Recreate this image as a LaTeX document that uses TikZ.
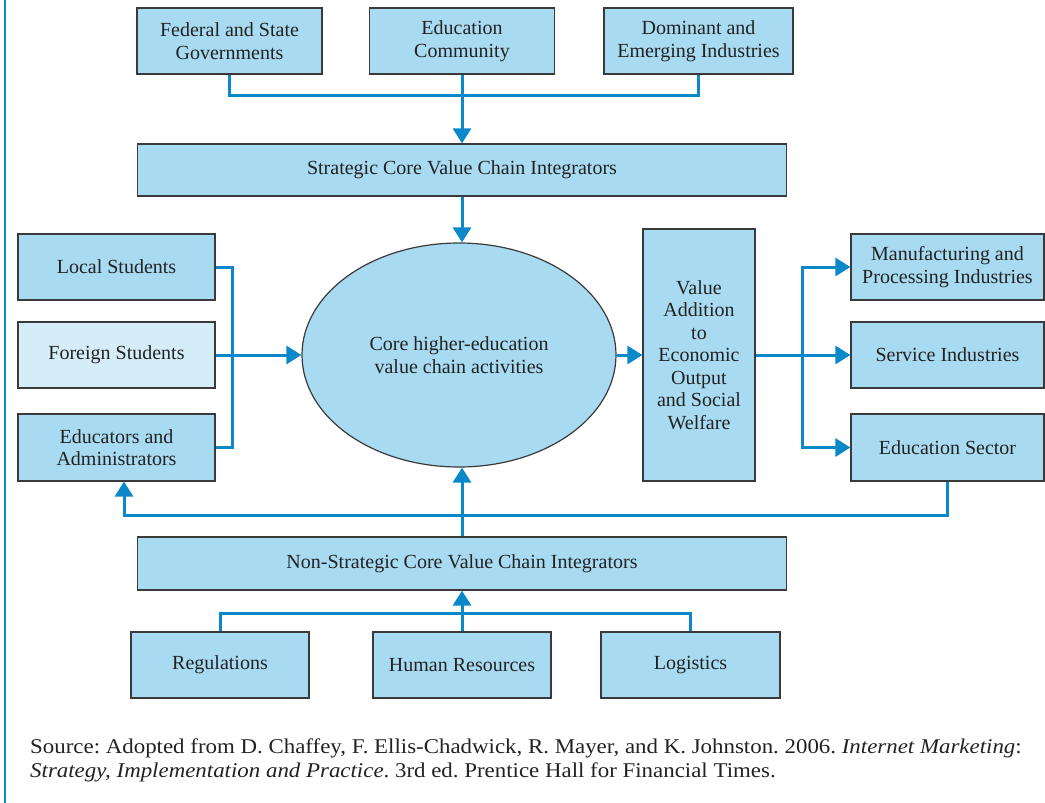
\documentclass[tikz,border=0pt]{standalone}
\usepackage{fontspec}
\setmainfont{Liberation Serif}
\newfontfamily\sourcefont[FakeStretch=1.09]{Liberation Serif}
\usetikzlibrary{arrows.meta,positioning,calc,shapes.geometric}
\definecolor{boxfill}{HTML}{A8DBF2}
\definecolor{boxpale}{HTML}{D5EDF9}
\definecolor{boxline}{HTML}{3A3A3A}
\definecolor{linkblue}{HTML}{0A88C9}
\definecolor{inktext}{HTML}{222222}

\tikzset{
  chainbox/.style={draw=boxline,line width=1.2pt,fill=boxfill,align=center,
    inner sep=0pt,text=inktext,font=\fontsize{20}{22.5}\selectfont},
  link/.style={linkblue,line width=3pt},
  linkarrow/.style={link,-{Triangle[length=15pt,width=18pt]}}
}

\begin{document}
\frenchspacing
\begin{tikzpicture}[x=1pt,y=-1pt]
  \useasboundingbox (0,0) rectangle (1045,803);
  \draw[linkblue,line width=1.5pt] (5,0) -- (5,803);

  % top row
  \node[chainbox,minimum width=185pt,minimum height=66pt] (fed) at (229.5,41) {Federal and State\\Governments};
  \node[chainbox,minimum width=185pt,minimum height=66pt] (edu) at (462,41) {Education\\Community};
  \node[chainbox,minimum width=189pt,minimum height=66pt] (dom) at (698.5,41) {Dominant and\\Emerging Industries};
  \node[chainbox,minimum width=649pt,minimum height=52pt] (strat) at (462,170) {Strategic Core Value Chain Integrators};

  % middle
  \node[chainbox,ellipse,minimum width=314pt,minimum height=224pt] (core) at (459,355) {Core higher-education\\value chain activities};
  \node[chainbox,minimum width=197pt,minimum height=66pt] (local) at (116.5,267) {Local Students};
  \node[chainbox,fill=boxpale,minimum width=197pt,minimum height=66pt] (foreign) at (116.5,355) {Foreign Students};
  \node[chainbox,minimum width=197pt,minimum height=67pt] (educ) at (116.5,447.5) {Educators and\\Administrators};
  \node[chainbox,minimum width=112pt,minimum height=252pt] (value) at (699,355) {Value\\Addition\\to\\Economic\\Output\\and Social\\Welfare};
  \node[chainbox,minimum width=193pt,minimum height=66pt] (manu) at (947.5,267) {Manufacturing and\\Processing Industries};
  \node[chainbox,minimum width=193pt,minimum height=66pt] (serv) at (947.5,355) {Service Industries};
  \node[chainbox,minimum width=193pt,minimum height=67pt] (edsec) at (947.5,447.5) {Education Sector};

  % bottom
  \node[chainbox,minimum width=649pt,minimum height=53pt] (nonstrat) at (462,563.5) {Non-Strategic Core Value Chain Integrators};
  \node[chainbox,minimum width=178pt,minimum height=66pt] (reg) at (220,665) {Regulations};
  \node[chainbox,minimum width=178pt,minimum height=66pt] (hr) at (462,665) {Human Resources};
  \node[chainbox,minimum width=179pt,minimum height=66pt] (log) at (690.5,665) {Logistics};

  \node[anchor=north west,align=left,inner sep=0pt,text=inktext,font=\sourcefont\fontsize{21}{24}\selectfont] (src) at (30,739)
    {Source: Adopted from D. Chaffey, F. Ellis-Chadwick, R. Mayer, and K. Johnston. 2006. \textit{Internet Marketing}:\\
     \textit{Strategy, Implementation and Practice}. 3rd ed. Prentice Hall for Financial Times.};

  % connectors
  \coordinate (topjoin) at (462,95);
  \coordinate (lbus) at (232,355);
  \coordinate (rbus) at (802,355);
  \coordinate (fbend) at (124,515);
  \coordinate (botjoin) at (462,613);

  \draw[link] (fed.south) |- (topjoin) -| (dom.south);
  \draw[linkarrow] (edu.south) -- (strat.north);
  \draw[linkarrow] (strat.south) -- (strat.south |- core.north);
  \draw[link] (local.east) -| (lbus) |- (educ.east);
  \draw[linkarrow] (foreign.east) -- (core.west);
  \draw[linkarrow] (core.east) -- (value.west);
  \draw[linkarrow] (value.east) -- (serv.west);
  \draw[linkarrow] (rbus) |- (manu.west);
  \draw[linkarrow] (rbus) |- (edsec.west);
  \draw[linkarrow] (edsec.south) |- (fbend) -- (fbend |- educ.south);
  \draw[linkarrow] (nonstrat.north) -- (nonstrat.north |- core.south);
  \draw[link] (reg.north) |- (botjoin) -| (log.north);
  \draw[linkarrow] (hr.north) -- (nonstrat.south);
\end{tikzpicture}
\end{document}
